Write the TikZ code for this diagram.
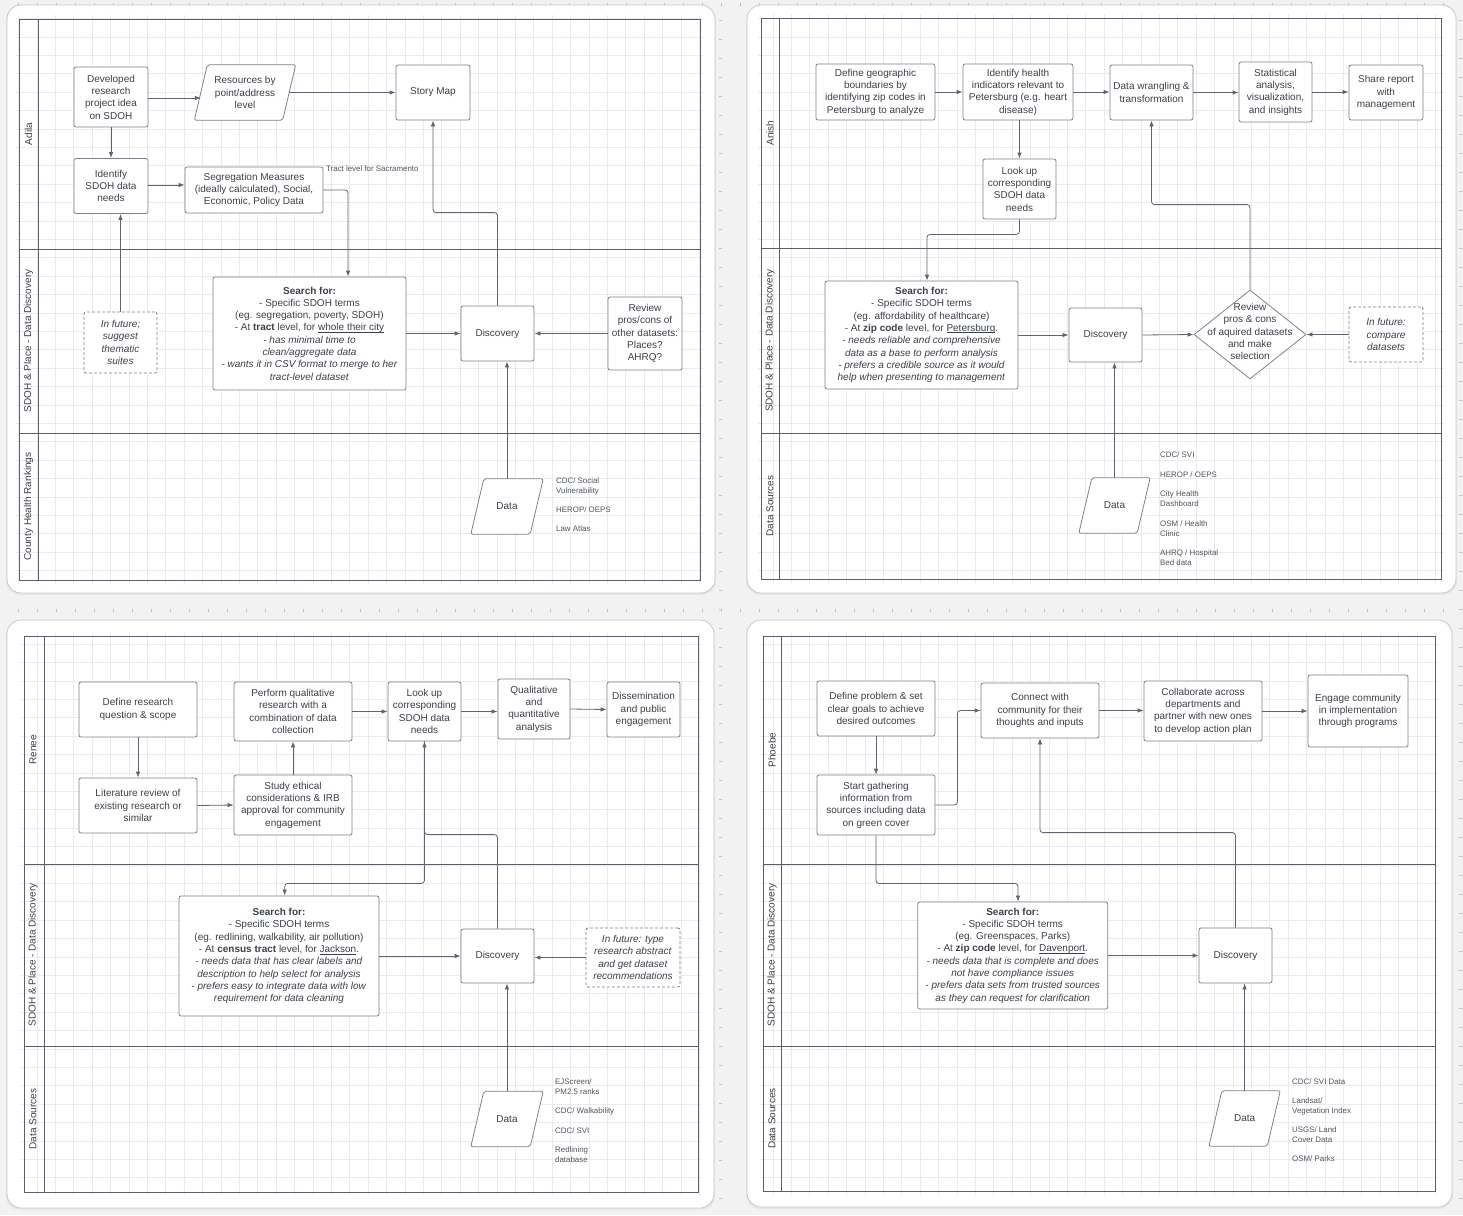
\documentclass[tikz,border=0pt]{standalone}
\usepackage{fontspec}
\setmainfont{Liberation Sans}
\usetikzlibrary{arrows.meta,shapes.geometric}
\definecolor{txtc}{RGB}{60,64,72}
\definecolor{smallc}{RGB}{80,85,94}
\definecolor{boxc}{RGB}{125,130,140}
\definecolor{linec}{RGB}{95,100,110}
\definecolor{lanec}{RGB}{90,95,105}
\definecolor{gridc}{RGB}{234,235,238}
\definecolor{bgc}{RGB}{242,242,242}
\definecolor{cardc}{RGB}{200,200,204}
\definecolor{tickc}{RGB}{195,195,198}

\newcommand\myul[1]{\setbox0\hbox{#1}\rlap{\rule[-1.6pt]{\wd0}{0.55pt}}\box0}
\newcommand\drawpara[2]{\draw[shp] ([xshift=-#2]#1.south west) -- ([xshift=#2]#1.north west) -- ([xshift=#2]#1.north east) -- ([xshift=-#2]#1.south east) -- cycle;}
\newcommand\mycard[4]{%
  \fill[black!9, rounded corners=14pt] (#1-1,#2+2) rectangle (#3+1,#4+2);
  \filldraw[fill=white, draw=cardc, line width=0.8pt, rounded corners=14pt] (#1,#2) rectangle (#3,#4);}
\newcommand\mylanes[7]{%
  \begin{scope}
    \clip (#1-3,#2-3) rectangle (#3+3,#4+3);
    \draw[gridc, line width=0.5pt, step=18.4pt] (#1-10,#4+10) grid (#3+10,#2-10);
  \end{scope}
  \draw[lanec, line width=0.9pt] (#1,#2) rectangle (#3,#4);
  \draw[lanec, line width=0.9pt] (#5,#2)--(#5,#4) (#1,#6)--(#3,#6) (#1,#7)--(#3,#7);}

\begin{document}
\begin{tikzpicture}[x=1pt,y=-1pt,
  box/.style={draw=boxc, line width=0.8pt, rounded corners=2pt, fill=white, text=txtc, align=center, inner sep=2pt, font=\fontsize{10}{12.3}\selectfont},
  dbox/.style={box, dash pattern=on 3pt off 2pt},
  sz/.style 2 args={minimum width=#1pt, minimum height=#2pt},
  pbox/.style={inner sep=0pt},
  ptxt/.style={text=txtc, align=center, inner sep=0pt, font=\fontsize{10}{12.3}\selectfont},
  shp/.style={draw=boxc, line width=0.8pt, rounded corners=2pt, fill=white},
  conn/.style={draw=linec, line width=0.8pt, rounded corners=3pt, -{Latex[length=6pt,width=4.5pt]}},
  small/.style={text=smallc, font=\fontsize{7.9}{10}\selectfont, align=left, anchor=north west, inner sep=0pt},
  lanelbl/.style={rotate=90, text=txtc, font=\fontsize{10}{12}\selectfont, inner sep=0pt}
]
\useasboundingbox (0,0) rectangle (1463,1215);
\fill[bgc] (0,0) rectangle (1463,1215);
% ruler ticks
\foreach \i in {18,37,...,1450} {
  \draw[tickc, line width=0.6pt] (\i,3) -- (\i,6);
  \draw[tickc, line width=0.6pt] (\i,609) -- (\i,612);
}
\foreach \j in {20,39,...,1200} {
  \draw[tickc, line width=0.6pt] (719,\j) -- (722,\j);
  \draw[tickc, line width=0.6pt] (1459,\j) -- (1462,\j);
}

% ---------------- cards and lanes ----------------
\mycard{7}{5}{715}{593}
\mycard{747}{5}{1456}{593}
\mycard{7}{620}{714}{1208}
\mycard{747}{620}{1452}{1207}
\mylanes{19}{19}{700}{580}{38}{249}{433}
\mylanes{761}{18}{1441}{579}{779}{248}{433}
\mylanes{24}{636}{698}{1192}{44}{864}{1046}
\mylanes{763}{636}{1435}{1191}{781.5}{864}{1046}

% lane labels
\node[lanelbl] (l1a) at (28.5,134) {Adila};
\node[lanelbl] (l1b) at (28.5,341) {SDOH \& Place - Data Discovery};
\node[lanelbl] (l1c) at (28.5,506.5) {County Health Rankings};
\node[lanelbl] (l2a) at (770,133) {Anish};
\node[lanelbl] (l2b) at (770,340.5) {SDOH \& Place - Data Discovery};
\node[lanelbl] (l2c) at (770,506) {Data Sources};
\node[lanelbl] (l3a) at (33,750) {Renee};
\node[lanelbl] (l3b) at (33,955) {SDOH \& Place - Data Discovery};
\node[lanelbl] (l3c) at (33,1119) {Data Sources};
\node[lanelbl] (l4a) at (772,750) {Phoebe};
\node[lanelbl] (l4b) at (772,955) {SDOH \& Place - Data Discovery};
\node[lanelbl] (l4c) at (772,1118.5) {Data Sources};

% ---------------- Card 1: Adila ----------------
\node[box, sz={74}{60}] (a1) at (111,97) {Developed\\research\\project idea\\on SDOH};
\node[pbox, sz={88}{55}] (a2) at (245,92.5) {};
\drawpara{a2}{6.5pt}
\node[ptxt] (a2t) at (a2) {Resources by\\point/address\\level};
\node[box, sz={74}{55}] (a3) at (433,92.5) {Story Map};
\node[box, sz={74}{55}] (a4) at (111,186) {Identify\\SDOH data\\needs};
\node[box, sz={138}{46}] (a5) at (254,190) {Segregation Measures\\(ideally calculated), Social,\\Economic, Policy Data};
\node[small] (a5n) at (326,165.5) {Tract level for Sacramento};
\node[box, sz={193}{113}] (a6) at (309.5,333.5) {\textbf{Search for:}\\- Specific SDOH terms\\(eg. segregation, poverty, SDOH)\\- At \textbf{tract} level, for \myul{whole their city}\\\textit{- has minimal time to}\\\textit{clean/aggregate data}\\\textit{- wants it in CSV format to merge to her}\\\textit{tract-level dataset}};
\node[dbox, sz={73}{61}] (a7) at (120.5,342.5) {\textit{In future;}\\\textit{suggest}\\\textit{thematic}\\\textit{suites}};
\node[box, sz={73}{55}] (a8) at (497.5,333.5) {Discovery};
\node[box, sz={74}{73}] (a9) at (645,333.5) {Review\\pros/cons of\\other datasets:\\Places?\\AHRQ?};
\node[pbox, sz={59}{55}] (a10) at (507,506.5) {};
\drawpara{a10}{6.5pt}
\node[ptxt] (a10t) at (a10) {Data};
\node[small] (a11) at (556,478) {CDC/ Social\\Vulnerability\\[9pt]HEROP/ OEPS\\[9pt]Law Atlas};

\draw[conn] (a1.east |- 0,98) -- (a2.west |- 0,98);
\draw[conn] (a2.east) -- (a2.east -| a3.west);
\draw[conn] (a1.south) -- (a4.north);
\draw[conn] (a4.east |- 0,185) -- (a5.west |- 0,185);
\draw[conn] (a5.east) -| ([xshift=38.5pt]a6.north);
\draw[conn] (a7.north) -- (a7.north |- a4.south);
\draw[conn] (a8.north) -- ++(0,-93) -| (a3.south);
\draw[conn] (a6.east) -- (a8.west);
\draw[conn] (a9.west) -- (a8.east);
\draw[conn] (a10.north) -- (a10.north |- a8.south);

% ---------------- Card 2: Anish ----------------
\node[box, sz={119}{56}] (b1) at (875.5,92) {Define geographic\\boundaries by\\identifying zip codes in\\Petersburg to analyze};
\node[box, sz={110}{56}] (b2) at (1018,92) {Identify health\\indicators relevant to\\Petersburg (e.g. heart\\disease)};
\node[box, sz={83}{55}] (b3) at (1151.5,92.5) {Data wrangling \&\\transformation};
\node[box, sz={73}{60}] (b4) at (1275.5,92) {Statistical\\analysis,\\visualization,\\and insights};
\node[box, sz={74}{55}] (b5) at (1386,92.5) {Share report\\with\\management};
\node[box, sz={73}{60}] (b6) at (1019.5,189) {Look up\\corresponding\\SDOH data\\needs};
\node[box, sz={193}{108}] (b7) at (921.5,335) {\textbf{Search for:}\\- Specific SDOH terms\\(eg. affordability of healthcare)\\- At \textbf{zip code} level, for \myul{Petersburg}.\\\textit{- needs reliable and comprehensive}\\\textit{data as a base to perform analysis}\\\textit{- prefers a credible source as it would}\\\textit{help when presenting to management}};
\node[box, sz={73}{54}] (b8) at (1105.5,335) {Discovery};
\node[diamond, draw=boxc, line width=0.8pt, fill=white, sz={112}{89}, inner sep=0pt] (b9) at (1250,334.5) {};
\node[ptxt] (b9t) at (1250,331.5) {Review\\pros \& cons\\of aquired datasets\\and make\\selection};
\node[dbox, sz={74}{55}] (b10) at (1386,334.5) {\textit{In future:}\\\textit{compare}\\\textit{datasets}};
\node[pbox, sz={58}{55}] (b11) at (1114.5,505.5) {};
\drawpara{b11}{6.5pt}
\node[ptxt] (b11t) at (b11) {Data};
\node[small] (b12) at (1160,452) {CDC/ SVI\\[10pt]HEROP / OEPS\\[9pt]City Health\\Dashboard\\[10pt]OSM / Health\\Clinic\\[9pt]AHRQ / Hospital\\Bed data};

\draw[conn] (b1.east) -- (b2.west);
\draw[conn] (b2.east) -- (b2.east -| b3.west);
\draw[conn] (b3.east) -- (b3.east -| b4.west);
\draw[conn] (b4.east) -- (b4.east -| b5.west);
\draw[conn] (b6.north |- b2.south) -- (b6.north);
\draw[conn] (b6.south) -- ++(0,15) -| ([xshift=5.5pt]b7.north);
\draw[conn] (b7.east) -- (b8.west);
\draw[conn] (b8.east) -- (b9.west);
\draw[conn] (b10.west) -- (b9.east);
\draw[conn] (b9.north) -- ++(0,-85) -| (b3.south);
\draw[conn] (b11.north) -- (b11.north |- b8.south);

% ---------------- Card 3: Renee ----------------
\node[box, sz={118}{55}] (c1) at (138,709.5) {Define research\\question \& scope};
\node[box, sz={118}{59}] (c2) at (293,711.5) {Perform qualitative\\research with a\\combination of data\\collection};
\node[box, sz={73}{59}] (c3) at (424.5,711.5) {Look up\\corresponding\\SDOH data\\needs};
\node[box, sz={72}{60}] (c4) at (534,709) {Qualitative\\and\\quantitative\\analysis};
\node[box, sz={73}{55}] (c5) at (643.5,709.5) {Dissemination\\and public\\engagement};
\node[box, sz={118}{55}] (c6) at (138,805.5) {Literature review of\\existing research or\\similar};
\node[box, sz={118}{60}] (c7) at (293,805) {Study ethical\\considerations \& IRB\\approval for community\\engagement};
\node[box, sz={200}{120}] (c8) at (279,956) {\textbf{Search for:}\\- Specific SDOH terms\\(eg. redlining, walkability, air pollution)\\- At \textbf{census tract} level, for \myul{Jackson}.\\\textit{- needs data that has clear labels and}\\\textit{description to help select for analysis}\\\textit{- prefers easy to integrate data with low}\\\textit{requirement for data cleaning}};
\node[box, sz={73}{54}] (c9) at (497.5,956) {Discovery};
\node[dbox, sz={94}{59}] (c10) at (633,957.5) {\textit{In future: type}\\\textit{research abstract}\\\textit{and get dataset}\\\textit{recommendations}};
\node[pbox, sz={59}{55}] (c11) at (507,1119) {};
\drawpara{c11}{6.5pt}
\node[ptxt] (c11t) at (c11) {Data};
\node[small] (c12) at (555,1079) {EJScreen/\\PM2.5 ranks\\[9pt]CDC/ Walkability\\[10pt]CDC/ SVI\\[9pt]Redlining\\database};

\draw[conn] (c1.south) -- (c6.north);
\draw[conn] (c6.east) -- (c7.west);
\draw[conn] (c7.north) -- (c2.south);
\draw[conn] (c2.east) -- (c3.west);
\draw[conn] (c3.east) -- (c3.east -| c4.west);
\draw[conn] (c4.east) -- (c5.west);
\draw[conn] (c3.south) -- ++(0,142) -| ([xshift=5.7pt]c8.north);
\draw[conn] (c9.north) -- ++(0,-94) -| (c3.south);
\draw[conn] (c8.east) -- (c9.west);
\draw[conn] (c10.west) -- (c10.west -| c9.east);
\draw[conn] (c11.north) -- (c11.north |- c9.south);

% ---------------- Card 4: Phoebe ----------------
\node[box, sz={118}{55}] (d1) at (876,708.5) {Define problem \& set\\clear goals to achieve\\desired outcomes};
\node[box, sz={118}{55}] (d2) at (1040,710.5) {Connect with\\community for their\\thoughts and inputs};
\node[box, sz={118}{60}] (d3) at (1203,711) {Collaborate across\\departments and\\partner with new ones\\to develop action plan};
\node[box, sz={100}{72}] (d4) at (1358,711) {Engage community\\in implementation\\through programs};
\node[box, sz={118}{60}] (d5) at (876,805) {Start gathering\\information from\\sources including data\\on green cover};
\node[box, sz={190}{107}] (d6) at (1012.7,955.5) {\textbf{Search for:}\\- Specific SDOH terms\\(eg. Greenspaces, Parks)\\- At \textbf{zip code} level, for \myul{Davenport}.\\\textit{- needs data that is complete and does}\\\textit{not have compliance issues}\\\textit{- prefers data sets from trusted sources}\\\textit{as they can request for clarification}};
\node[box, sz={73}{55}] (d7) at (1235.5,955.5) {Discovery};
\node[pbox, sz={58}{55}] (d8) at (1244.6,1118.5) {};
\drawpara{d8}{6.5pt}
\node[ptxt] (d8t) at (d8) {Data};
\node[small] (d9) at (1292,1079) {CDC/ SVI Data\\[9pt]Landsat/\\Vegetation Index\\[9pt]USGS/ Land\\Cover Data\\[9pt]OSM/ Parks};

\draw[conn] (d1.south) -- (d5.north);
\draw[conn] (d5.east) -- ++(22,0) |- (d2.west);
\draw[conn] (d2.east) -- (d2.east -| d3.west);
\draw[conn] (d3.east) -- (d3.east -| d4.west);
\draw[conn] (d7.north) -- ++(0,-95) -| (d2.south);
\draw[conn] (d5.south) -- ++(0,48) -| ([xshift=5.3pt]d6.north);
\draw[conn] (d6.east) -- (d6.east -| d7.west);
\draw[conn] (d8.north) -- (d8.north |- d7.south);
\end{tikzpicture}
\end{document}
